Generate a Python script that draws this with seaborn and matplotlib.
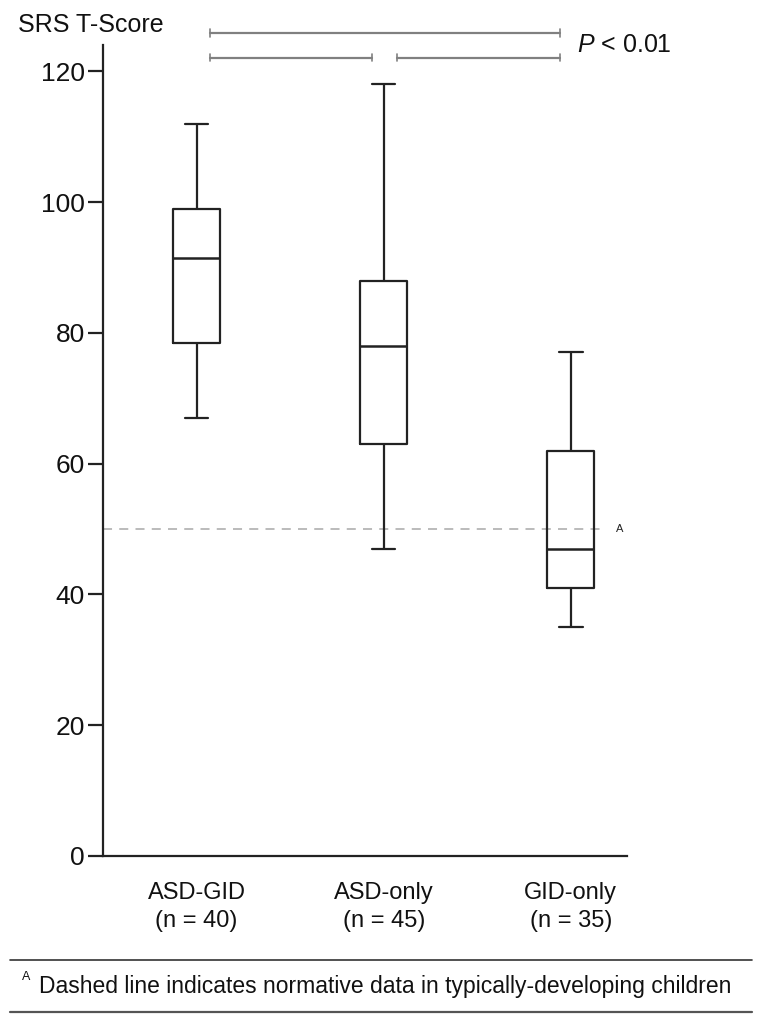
import matplotlib
matplotlib.use("Agg")
import matplotlib.pyplot as plt
import seaborn as sns
import pandas as pd

# box summary values (SRS T-score)
groups = ["ASD-GID\n(n = 40)", "ASD-only\n(n = 45)", "GID-only\n(n = 35)"]
whisker_low = [67, 47, 35]
q1 = [78.5, 63, 41]
median = [91.5, 78, 47]
q3 = [99, 88, 62]
whisker_high = [112, 118, 77]

y_ticks = [0, 20, 40, 60, 80, 100, 120]
normative = 50

# five-number summaries in long form so seaborn draws the boxes itself
rows = []
for i, g in enumerate(groups):
    for v in (whisker_low[i], q1[i], median[i], q3[i], whisker_high[i]):
        rows.append({"group": g, "score": v})
df = pd.DataFrame(rows)

sns.set_theme(style="ticks")
plt.rcParams['font.family'] = ['Liberation Sans', 'DejaVu Sans']
plt.rcParams['mathtext.fontset'] = 'custom'
plt.rcParams['mathtext.it'] = 'Liberation Sans:italic'
plt.rcParams['mathtext.rm'] = 'Liberation Sans'

line_col = "#222222"
txt_col = "#111111"
fig = plt.figure(figsize=(7.66, 10.26), dpi=100)
ax = fig.add_axes([0.1345, 0.1657, 0.684, 0.7903])

sns.boxplot(data=df, x="group", y="score", order=groups, whis=(0, 100),
            width=0.25, fill=False, color=line_col, linewidth=1.6,
            medianprops={"linewidth": 1.8}, ax=ax)

ax.set_xlim(-0.5, 2.3)
ax.set_ylim(0, 124)
ax.set_yticks(y_ticks)
ax.set_xlabel("")
ax.set_ylabel("")
sns.despine(ax=ax)
for s in ("left", "bottom"):
    ax.spines[s].set_linewidth(1.6)
    ax.spines[s].set_color(line_col)
ax.tick_params(axis="y", length=11, width=1.6, color=line_col, labelsize=19, pad=2)
ax.tick_params(axis="x", length=0, labelsize=17, pad=19)
for lab in ax.get_xticklabels():
    lab.set_linespacing(1.35)
for lab in ax.get_xticklabels() + ax.get_yticklabels():
    lab.set_color(txt_col)

# normative reference line
ax.axhline(normative, xmin=0, xmax=0.958, color="#b5b5b5",
           linestyle=(0, (5, 4)), linewidth=1.3, zorder=0)
ax.text(2.24, normative, "A", fontsize=8, va="center", ha="left", color=line_col)

# y-axis title
fig.text(91 / 766, 1 - 25 / 1026, "SRS T-Score", fontsize=18, ha="center",
         va="center", color=txt_col)

# significance brackets
br_col = "#808080"
def bracket(x0, x1, y):
    ax.plot([x0, x1], [y, y], color=br_col, lw=1.6, clip_on=False)
    for xx in (x0, x1):
        ax.plot([xx, xx], [y - 0.6, y + 0.6], color=br_col, lw=1.2, clip_on=False)

bracket(0.07, 1.94, 125.9)
bracket(0.07, 0.94, 122.1)
bracket(1.07, 1.94, 122.1)
ax.text(2.035, 124.0, r"$P$ < 0.01", fontsize=18, ha="left", va="center",
        clip_on=False, color=txt_col)

# footnote
fig.add_artist(plt.Line2D([0.013, 0.982], [1 - 960 / 1026] * 2, color="#333333", lw=1.2))
fig.add_artist(plt.Line2D([0.013, 0.982], [1 - 1012 / 1026] * 2, color="#555555", lw=1.6))
fig.text(0.029, 1 - 983 / 1026, "A", fontsize=9, va="bottom", ha="left", color=txt_col)
fig.text(0.051, 1 - 986 / 1026, "Dashed line indicates normative data in typically-developing children",
         fontsize=16.5, va="center", ha="left", color=txt_col)

fig.savefig("out.png", dpi=100)
